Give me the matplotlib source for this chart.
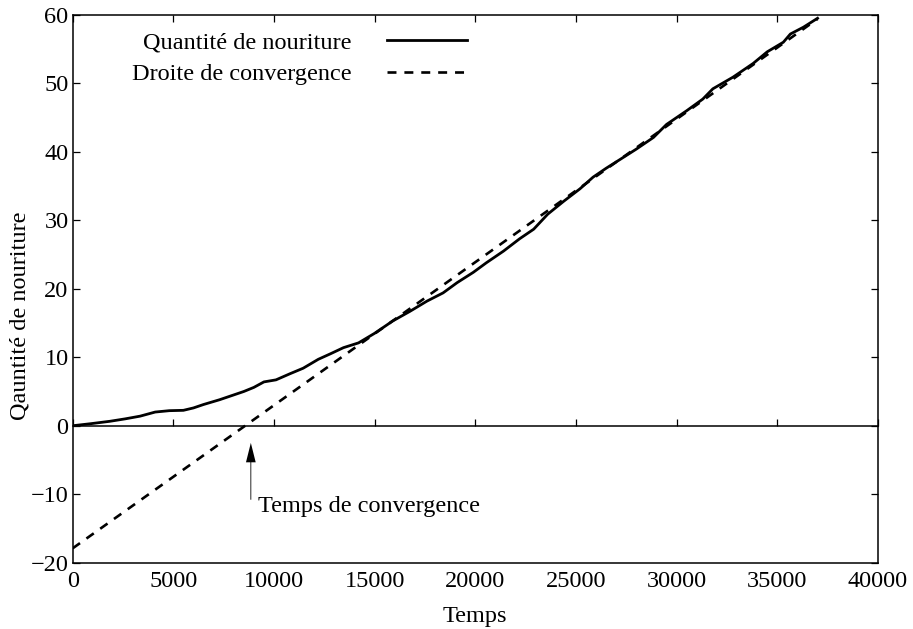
import matplotlib

matplotlib.use("Agg")
import matplotlib.pyplot as plt

plt.rcParams["font.family"] = ["Liberation Serif", "DejaVu Serif"]
plt.rcParams["font.size"] = 17.5

# Quantité de nourriture au cours du temps
temps = [0, 900, 1850, 2600, 3350, 4100, 4800, 5500, 6000, 6500, 7300, 8000,
         8500, 9000, 9500, 10100, 10800, 11450, 12200, 12800, 13450, 14200,
         15000, 15900, 16750, 17600, 18400, 19100, 19900, 20550, 21400, 22200,
         22900, 23600, 24400, 25200, 25850, 26500, 27200, 28000, 28850, 29500,
         30500, 31300, 31800, 32800, 33800, 34500, 35300, 35650, 36300, 37000]
nourriture = [0, 0.3, 0.65, 1.0, 1.4, 2.0, 2.2, 2.25, 2.6, 3.1, 3.8, 4.5,
              5.0, 5.6, 6.4, 6.7, 7.6, 8.4, 9.7, 10.5, 11.4, 12.1,
              13.5, 15.3, 16.7, 18.2, 19.4, 20.9, 22.4, 23.8, 25.5, 27.3,
              28.7, 30.9, 32.8, 34.6, 36.3, 37.6, 38.9, 40.4, 42.1, 44.0,
              46.0, 47.7, 49.2, 50.9, 52.9, 54.6, 56.0, 57.2, 58.2, 59.5]

# Droite de convergence (extrémités)
droite_x = [0, 37000]
droite_y = [-17.9, 59.4]

# Temps de convergence (flèche + texte)
t_conv = 8850
fleche_y = [-10.8, -2.5]
texte_pos = (9200, -11.8)

x_ticks = [0, 5000, 10000, 15000, 20000, 25000, 30000, 35000, 40000]
y_ticks = [-20, -10, 0, 10, 20, 30, 40, 50, 60]


def main():
    fig = plt.figure(figsize=(9.13, 6.29), dpi=100)
    ax = fig.add_axes([0.0796, 0.1054, 0.882, 0.871])

    ax.plot(temps, nourriture, color="black", lw=2.0,
            label="Quantité de nouriture")
    ax.plot(droite_x, droite_y, color="black", lw=1.9,
            linestyle=(0, (3.4, 3.0)), label="Droite de convergence")

    ax.set_xlim(0, 40000)
    ax.set_ylim(-20, 60)
    ax.set_xticks(x_ticks)
    ax.set_yticks(y_ticks)

    for spine in ax.spines.values():
        spine.set_linewidth(1.1)

    ax.tick_params(axis="x", direction="in", length=5, width=0.9,
                   top=True, bottom=False, labelbottom=True, pad=6)
    ax.tick_params(axis="y", direction="in", length=5, width=0.9,
                   left=True, right=True, pad=3)

    # axe des abscisses au niveau de y = 0, avec ses graduations
    zero = ax.secondary_xaxis((0 - (-20)) / 80)
    zero.set_xticks(x_ticks)
    zero.tick_params(direction="in", length=5, width=0.9, labelbottom=False)
    zero.spines["bottom"].set_linewidth(1.1)

    ax.annotate("", xy=(t_conv, fleche_y[1]), xytext=(t_conv, fleche_y[0]),
                arrowprops=dict(width=0.6, headwidth=7, headlength=14,
                                facecolor="black", edgecolor="black", lw=0))
    ax.text(texte_pos[0], texte_pos[1], "Temps de convergence",
            va="center", ha="left")

    ax.set_xlabel("Temps", labelpad=10)
    ax.set_ylabel("Qauntité de nouriture", labelpad=0)
    ax.yaxis.label.set_y(0.45)

    ax.legend(loc="upper right", bbox_to_anchor=(0.5115, 0.950),
              bbox_transform=fig.transFigure, frameon=False,
              markerfirst=False, handlelength=3.3, handletextpad=1.45,
              borderpad=0, borderaxespad=0, labelspacing=0.4)

    fig.savefig("out.png", dpi=100)
    plt.close(fig)


if __name__ == "__main__":
    main()
